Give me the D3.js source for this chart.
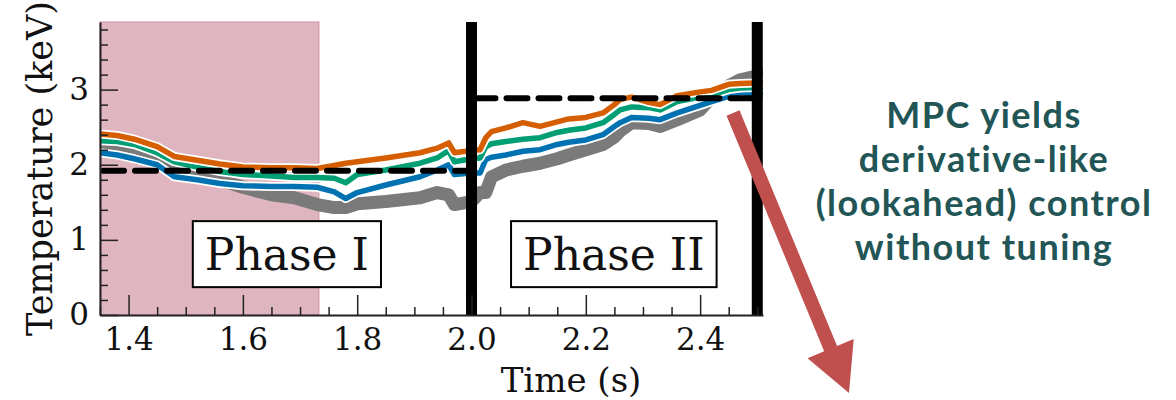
<!DOCTYPE html>
<html>
<head>
<meta charset="utf-8">
<script src="https://d3js.org/d3.v7.min.js"></script>
<style>
  body { margin: 0; background: #fff; }
  svg { display: block; }
</style>
</head>
<body>
<div id="container"></div>
<script>
// time samples (s) shared by all traces
const times = [1.35, 1.38, 1.41, 1.45, 1.48, 1.52, 1.56, 1.60, 1.65, 1.69, 1.73, 1.76, 1.78, 1.80,
  1.85, 1.91, 1.94, 1.96, 1.97, 2.00, 2.015, 2.025, 2.035, 2.06, 2.09, 2.12, 2.15, 2.17, 2.20,
  2.23, 2.25, 2.26, 2.28, 2.31, 2.33, 2.36, 2.40, 2.42, 2.45, 2.47, 2.51];

// measured temperature (gray, thick)
const measured = [2.24, 2.21, 2.16, 2.08, 1.93, 1.87, 1.80, 1.70, 1.60, 1.56, 1.47, 1.43, 1.43, 1.48,
  1.51, 1.56, 1.63, 1.60, 1.47, 1.51, 1.63, 1.63, 1.84, 1.93, 1.98, 2.02, 2.08, 2.13, 2.20,
  2.27, 2.37, 2.45, 2.56, 2.55, 2.51, 2.60, 2.73, 2.90, 3.05, 3.13, 3.20];

const orange = [2.41, 2.39, 2.34, 2.24, 2.11, 2.06, 2.01, 1.97, 1.96, 1.96, 1.95, 1.99, 2.02, 2.04,
  2.09, 2.16, 2.22, 2.29, 2.16, 2.19, 2.20, 2.36, 2.44, 2.49, 2.56, 2.51, 2.57, 2.61, 2.63,
  2.69, 2.80, 2.87, 2.90, 2.83, 2.80, 2.92, 2.97, 2.99, 3.07, 3.08, 3.09];

const teal = [2.32, 2.31, 2.27, 2.16, 2.04, 1.97, 1.91, 1.87, 1.85, 1.83, 1.83, 1.82, 1.76, 1.87,
  1.93, 2.02, 2.09, 2.19, 2.04, 2.08, 2.09, 2.24, 2.28, 2.31, 2.34, 2.36, 2.43, 2.46, 2.49,
  2.56, 2.67, 2.73, 2.77, 2.76, 2.73, 2.84, 2.90, 2.93, 3.00, 3.02, 3.03];

const blue = [2.16, 2.13, 2.08, 2.00, 1.84, 1.80, 1.75, 1.72, 1.71, 1.71, 1.70, 1.64, 1.55, 1.63,
  1.73, 1.84, 1.93, 2.00, 1.87, 1.89, 1.89, 2.07, 2.10, 2.13, 2.18, 2.20, 2.27, 2.30, 2.33,
  2.40, 2.51, 2.56, 2.63, 2.62, 2.60, 2.69, 2.79, 2.84, 2.91, 2.96, 2.93];

// target temperature per phase: [start, end, keV]
const targets = [[1.35, 2.0, 1.92], [2.0, 2.5, 2.885]];
// phase boundaries (thick black lines)
const boundaries = [2.0, 2.5];
// shaded window (s)
const shadeSpan = [1.35, 1.733];

const xTicks = [1.4, 1.6, 1.8, 2.0, 2.2, 2.4];
const yTicks = [0, 1, 2, 3];

const phaseLabels = ["Phase I", "Phase II"];
const phaseAt = [[1.677, 0.81], [2.249, 0.81]];

const noteLines = ["MPC yields", "derivative-like", "(lookahead) control", "without tuning"];

const width = 1176, height = 400;
const marginLeft = 100, axRight = 763, marginTop = 22, axBottom = 315;

const x = d3.scaleLinear().domain([1.35, 2.51]).range([marginLeft, axRight]);
const y = d3.scaleLinear().domain([0, 3.9]).range([axBottom, marginTop]);

const svg = d3.select("#container").append("svg")
  .attr("width", width).attr("height", height);

svg.append("defs").append("clipPath").attr("id", "plot")
  .append("rect")
  .attr("x", marginLeft).attr("y", marginTop)
  .attr("width", axRight - marginLeft).attr("height", axBottom - marginTop);

// shaded window
svg.append("rect")
  .attr("x", x(shadeSpan[0]))
  .attr("y", marginTop)
  .attr("width", x(shadeSpan[1]) - x(shadeSpan[0]))
  .attr("height", axBottom - marginTop)
  .attr("fill", "#dfb5bf")
  .attr("stroke", "#d0909f")
  .attr("stroke-width", 1);

const plot = svg.append("g").attr("clip-path", "url(#plot)");

const line = d3.line()
  .x((d, i) => x(times[i]))
  .y(d => y(d));

plot.append("path")
  .attr("d", line(measured))
  .attr("fill", "none")
  .attr("stroke", "#7a7a7a")
  .attr("stroke-width", 13)
  .attr("stroke-linejoin", "round")
  .attr("stroke-linecap", "round");

const series = [
  { values: blue, color: "#0072b2" },
  { values: teal, color: "#009e73" },
  { values: orange, color: "#d55e00" },
];

series.forEach(s => {
  plot.append("path")
    .attr("d", line(s.values))
    .attr("fill", "none")
    .attr("stroke", "#fff")
    .attr("stroke-width", 9)
    .attr("stroke-linejoin", "round");
  plot.append("path")
    .attr("d", line(s.values))
    .attr("fill", "none")
    .attr("stroke", s.color)
    .attr("stroke-width", 5.5)
    .attr("stroke-linejoin", "round");
});

// targets
targets.forEach(t => {
  plot.append("line")
    .attr("x1", x(t[0]) + 3).attr("x2", x(t[1]))
    .attr("y1", y(t[2])).attr("y2", y(t[2]))
    .attr("stroke", "#000")
    .attr("stroke-width", 6)
    .attr("stroke-dasharray", "21 11")
    .attr("stroke-linecap", "round");
});

// phase boundaries
boundaries.forEach(b => {
  svg.append("line")
    .attr("x1", x(b)).attr("x2", x(b))
    .attr("y1", marginTop).attr("y2", axBottom)
    .attr("stroke", "#000")
    .attr("stroke-width", 11);
});

// axes
const tickFont = "'DejaVu Serif', serif";

svg.append("g")
  .attr("transform", `translate(0,${axBottom})`)
  .call(d3.axisBottom(x).tickValues(xTicks).tickFormat(d3.format(".1f"))
    .tickSize(-20).tickSizeOuter(0).tickPadding(13));
svg.append("g")
  .attr("transform", `translate(0,${axBottom})`)
  .call(d3.axisBottom(x).tickValues(d3.range(1.35, 2.51, 0.05).filter(v => !xTicks.some(t => Math.abs(t - v) < 1e-6)))
    .tickFormat("").tickSize(-8).tickSizeOuter(0))
  .call(g => g.select(".domain").remove());

svg.append("g")
  .attr("transform", `translate(${marginLeft},0)`)
  .call(d3.axisLeft(y).tickValues(yTicks).tickFormat(d3.format("d"))
    .tickSize(-18).tickSizeOuter(0).tickPadding(11));
svg.append("g")
  .attr("transform", `translate(${marginLeft},0)`)
  .call(d3.axisLeft(y).tickValues(d3.range(0.2, 3.9, 0.2).filter(v => Math.abs(v - Math.round(v)) > 1e-6))
    .tickFormat("").tickSize(-8).tickSizeOuter(0))
  .call(g => g.select(".domain").remove());

svg.selectAll(".tick line").attr("stroke", "#222").attr("stroke-width", 1.5);
svg.selectAll(".domain").attr("stroke", "#222").attr("stroke-width", 2);
svg.selectAll(".tick text")
  .attr("font-family", tickFont)
  .attr("font-size", 31)
  .attr("fill", "#111");

// axis titles
svg.append("text")
  .attr("x", 571).attr("y", 392)
  .attr("text-anchor", "middle")
  .attr("font-family", tickFont)
  .attr("font-size", 34)
  .attr("fill", "#111")
  .text("Time (s)");

svg.append("text")
  .attr("transform", `translate(52,${(marginTop + axBottom) / 2}) rotate(-90)`)
  .attr("text-anchor", "middle")
  .attr("font-family", tickFont)
  .attr("font-size", 35)
  .attr("fill", "#111")
  .text("Temperature (keV)");

// phase labels with boxes
phaseLabels.forEach((label, i) => {
  const cx = x(phaseAt[i][0]), cy = y(phaseAt[i][1]);
  const g = svg.append("g");
  const txt = g.append("text")
    .attr("x", cx).attr("y", cy + 16)
    .attr("text-anchor", "middle")
    .attr("font-family", tickFont)
    .attr("font-size", 44)
    .attr("fill", "#111")
    .text(label);
  const w = txt.node().getComputedTextLength();
  g.insert("rect", "text")
    .attr("x", cx - w / 2 - 12).attr("y", cy - 33)
    .attr("width", w + 24).attr("height", 66)
    .attr("fill", "#fff")
    .attr("stroke", "#000")
    .attr("stroke-width", 2);
});

// annotation arrow
const arrowFrom = [733, 113], arrowTo = [849, 393];
const dx = arrowTo[0] - arrowFrom[0], dy = arrowTo[1] - arrowFrom[1];
const len = Math.hypot(dx, dy);
const ux = dx / len, uy = dy / len, px = -uy, py = ux;
const shaftW = 14, headW = 50, headL = 48;
const bx = arrowTo[0] - ux * headL, by = arrowTo[1] - uy * headL;
const pts = [
  [arrowFrom[0] + px * shaftW / 2, arrowFrom[1] + py * shaftW / 2],
  [bx + px * shaftW / 2, by + py * shaftW / 2],
  [bx + px * headW / 2, by + py * headW / 2],
  arrowTo,
  [bx - px * headW / 2, by - py * headW / 2],
  [bx - px * shaftW / 2, by - py * shaftW / 2],
  [arrowFrom[0] - px * shaftW / 2, arrowFrom[1] - py * shaftW / 2],
];
svg.append("path")
  .attr("d", "M" + pts.map(p => p.join(",")).join("L") + "Z")
  .attr("fill", "#c0504d");

// annotation text
svg.append("g").selectAll("text")
  .data(noteLines)
  .join("text")
  .attr("x", 984)
  .attr("y", (d, i) => 128 + i * 44)
  .attr("text-anchor", "middle")
  .attr("font-family", "Lato, sans-serif")
  .attr("font-weight", 700)
  .attr("font-size", 36)
  .attr("letter-spacing", 1.5)
  .attr("fill", "#225555")
  .text(d => d);
</script>
</body>
</html>
